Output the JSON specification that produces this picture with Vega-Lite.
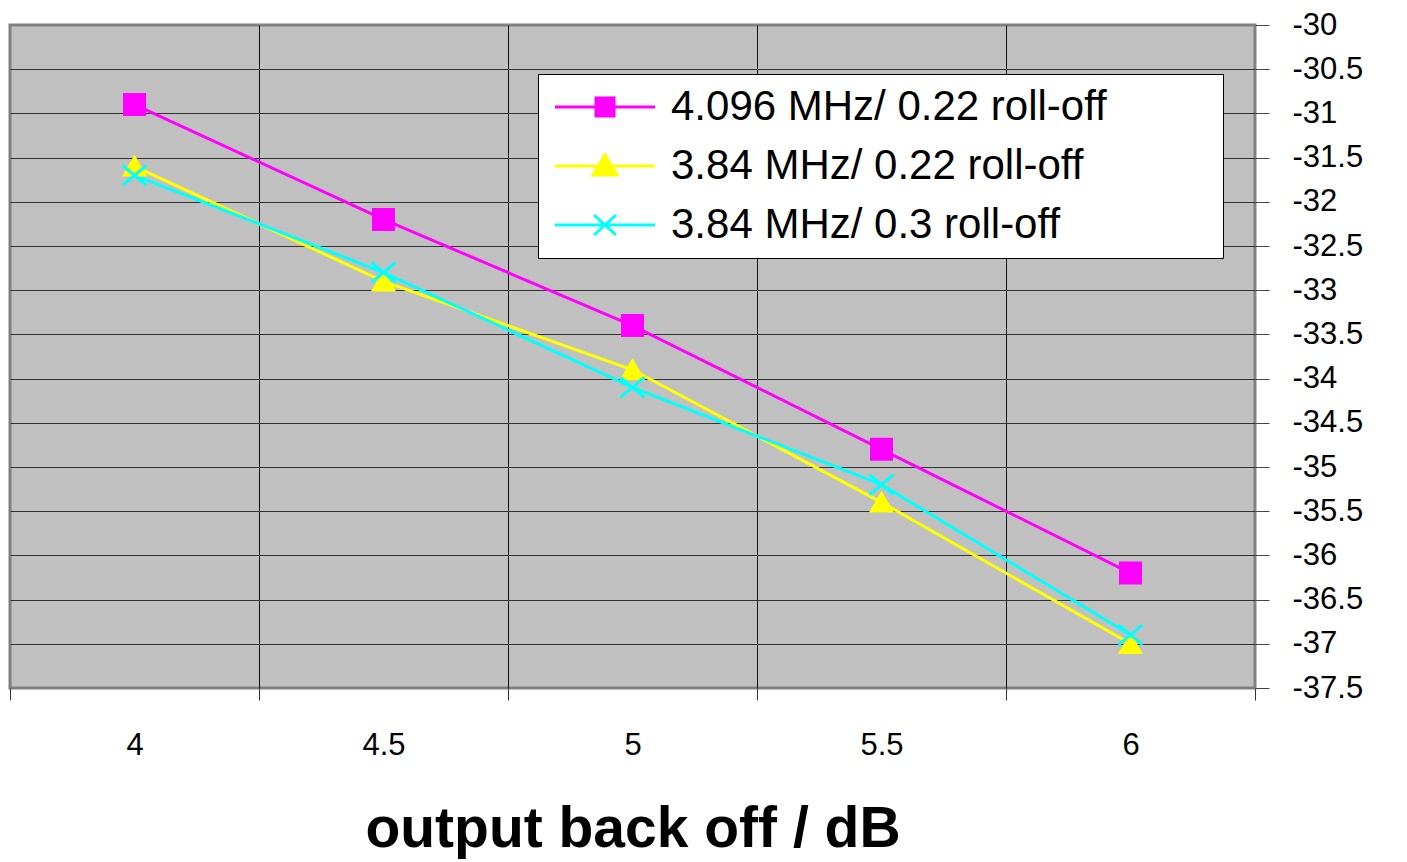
{
  "$schema": "https://vega.github.io/schema/vega-lite/v6.json",
  "width": 1245,
  "height": 663,
  "autosize": {"type": "none"},
  "padding": {"left": 10, "top": 25, "right": 152, "bottom": 174},
  "background": "white",
  "config": {
    "font": "Liberation Sans",
    "view": {"fill": "#C0C0C0", "stroke": "#808080", "strokeWidth": 3}
  },
  "data": {
    "values": [
      {"obo": 4, "series": "4.096 MHz/ 0.22 roll-off", "value": -30.9},
      {"obo": 4.5, "series": "4.096 MHz/ 0.22 roll-off", "value": -32.2},
      {"obo": 5, "series": "4.096 MHz/ 0.22 roll-off", "value": -33.4},
      {"obo": 5.5, "series": "4.096 MHz/ 0.22 roll-off", "value": -34.8},
      {"obo": 6, "series": "4.096 MHz/ 0.22 roll-off", "value": -36.2},
      {"obo": 4, "series": "3.84 MHz/ 0.22 roll-off", "value": -31.6},
      {"obo": 4.5, "series": "3.84 MHz/ 0.22 roll-off", "value": -32.9},
      {"obo": 5, "series": "3.84 MHz/ 0.22 roll-off", "value": -33.9},
      {"obo": 5.5, "series": "3.84 MHz/ 0.22 roll-off", "value": -35.4},
      {"obo": 6, "series": "3.84 MHz/ 0.22 roll-off", "value": -37.0},
      {"obo": 4, "series": "3.84 MHz/ 0.3 roll-off", "value": -31.7},
      {"obo": 4.5, "series": "3.84 MHz/ 0.3 roll-off", "value": -32.8},
      {"obo": 5, "series": "3.84 MHz/ 0.3 roll-off", "value": -34.1},
      {"obo": 5.5, "series": "3.84 MHz/ 0.3 roll-off", "value": -35.2},
      {"obo": 6, "series": "3.84 MHz/ 0.3 roll-off", "value": -36.9}
    ]
  },
  "encoding": {
    "y": {
      "field": "value",
      "type": "quantitative",
      "scale": {"domain": [-37.5, -30], "nice": false, "zero": false},
      "axis": {
        "orient": "right",
        "title": null,
        "values": [-37.5, -37, -36.5, -36, -35.5, -35, -34.5, -34, -33.5, -33, -32.5, -32, -31.5, -31, -30.5, -30],
        "grid": true,
        "gridColor": "#333333",
        "gridWidth": 1.2,
        "gridOpacity": {"condition": {"test": "datum.value <= -37.4 || datum.value >= -30.1", "value": 0}, "value": 1},
        "domain": false,
        "ticks": true,
        "tickSize": 14,
        "tickColor": "#444444",
        "tickWidth": 1,
        "labelFontSize": 31,
        "labelColor": "black",
        "labelPadding": 23,
        "labelAlign": "left",
        "labelBaseline": "middle",
        "labelFlush": false,
        "labelOverlap": false,
        "labelExpr": "(datum.value < 0 ? '-' : '') + format(abs(datum.value), '.1~f')"
      }
    }
  },
  "layer": [
    {
      "mark": {"type": "line", "strokeWidth": 3},
      "encoding": {
        "x": {
          "field": "obo",
          "type": "quantitative",
          "scale": {"domain": [3.75, 6.25], "nice": false, "zero": false},
          "axis": {
            "orient": "bottom",
            "values": [3.75, 4.25, 4.75, 5.25, 5.75, 6.25],
            "grid": true,
            "gridColor": "#111111",
            "gridWidth": 1,
            "gridOpacity": {"condition": {"test": "datum.value < 3.8 || datum.value > 6.2", "value": 0}, "value": 1},
            "ticks": true,
            "tickSize": 12,
            "tickColor": "#333333",
            "tickWidth": 1,
            "labels": false,
            "domain": false,
            "title": null
          }
        },
        "color": {
          "field": "series",
          "type": "nominal",
          "scale": {
            "domain": ["4.096 MHz/ 0.22 roll-off", "3.84 MHz/ 0.22 roll-off", "3.84 MHz/ 0.3 roll-off"],
            "range": ["#FF00FF", "#FFFF00", "#00FFFF"]
          },
          "legend": null
        }
      }
    },
    {
      "mark": {"type": "point", "size": 400, "strokeWidth": 3, "opacity": 1},
      "encoding": {
        "x": {
          "field": "obo",
          "type": "quantitative",
          "scale": {"domain": [3.75, 6.25], "nice": false, "zero": false},
          "axis": {
            "orient": "bottom",
            "values": [4, 4.5, 5, 5.5, 6],
            "grid": false,
            "ticks": false,
            "domain": false,
            "labelFontSize": 31,
            "labelColor": "black",
            "labelPadding": 42,
            "labelFlush": false,
            "labelExpr": "format(datum.value, '.1~f')",
            "title": "output back off / dB",
            "titleFontSize": 57,
            "titleFontWeight": "bold",
            "titleColor": "black",
            "titlePadding": 41
          }
        },
        "fill": {
          "field": "series",
          "type": "nominal",
          "scale": {
            "domain": ["4.096 MHz/ 0.22 roll-off", "3.84 MHz/ 0.22 roll-off", "3.84 MHz/ 0.3 roll-off"],
            "range": ["#FF00FF", "#FFFF00", "#00FFFF"]
          },
          "legend": null
        },
        "stroke": {
          "field": "series",
          "type": "nominal",
          "scale": {
            "domain": ["4.096 MHz/ 0.22 roll-off", "3.84 MHz/ 0.22 roll-off", "3.84 MHz/ 0.3 roll-off"],
            "range": ["#FF00FF", "#FFFF00", "#00FFFF"]
          },
          "legend": null
        },
        "shape": {
          "field": "series",
          "type": "nominal",
          "scale": {
            "domain": ["4.096 MHz/ 0.22 roll-off", "3.84 MHz/ 0.22 roll-off", "3.84 MHz/ 0.3 roll-off"],
            "range": ["square", "triangle-up", "M-1.2,-1L1.2,1M-1.2,1L1.2,-1"]
          },
          "legend": null
        }
      }
    },
    {
      "transform": [{"filter": "datum.obo > 100"}],
      "mark": {"type": "point", "size": 400, "strokeWidth": 3, "opacity": 1},
      "encoding": {
        "x": {"field": "obo", "type": "quantitative", "axis": null},
        "fill": {
          "field": "series",
          "type": "nominal",
          "scale": {
            "domain": ["4.096 MHz/ 0.22 roll-off", "3.84 MHz/ 0.22 roll-off", "3.84 MHz/ 0.3 roll-off"],
            "range": ["#FF00FF", "#FFFF00", "#00FFFF"]
          },
          "legend": {
            "title": null,
            "orient": "none",
            "legendX": 528,
            "legendY": 49,
            "direction": "vertical",
            "fillColor": "white",
            "strokeColor": "black",
            "padding": 12,
            "labelFontSize": 42,
            "labelColor": "black",
            "labelLimit": 0,
            "symbolSize": 400,
            "symbolStrokeWidth": 3,
            "symbolOpacity": 1,
            "symbolOffset": 34,
            "labelOffset": 45,
            "rowPadding": 17
          }
        },
        "stroke": {
          "field": "series",
          "type": "nominal",
          "scale": {
            "domain": ["4.096 MHz/ 0.22 roll-off", "3.84 MHz/ 0.22 roll-off", "3.84 MHz/ 0.3 roll-off"],
            "range": ["#FF00FF", "#FFFF00", "#00FFFF"]
          },
          "legend": {
            "title": null,
            "orient": "none",
            "legendX": 528,
            "legendY": 49,
            "direction": "vertical",
            "fillColor": "white",
            "strokeColor": "black",
            "padding": 12,
            "labelFontSize": 42,
            "labelColor": "black",
            "labelLimit": 0,
            "symbolSize": 400,
            "symbolStrokeWidth": 3,
            "symbolOpacity": 1,
            "symbolOffset": 34,
            "labelOffset": 45,
            "rowPadding": 17
          }
        },
        "shape": {
          "field": "series",
          "type": "nominal",
          "scale": {
            "domain": ["4.096 MHz/ 0.22 roll-off", "3.84 MHz/ 0.22 roll-off", "3.84 MHz/ 0.3 roll-off"],
            "range": ["M-5,0H5M-0.9,-0.9H0.9V0.9H-0.9ZM60,0", "M-5,0H5M0,-1.1L1.2,0.9H-1.2ZM60,0", "M-5,0H5M-1.1,-1L1.1,1M-1.1,1L1.1,-1M60,0"]
          },
          "legend": {
            "title": null,
            "orient": "none",
            "legendX": 528,
            "legendY": 49,
            "direction": "vertical",
            "fillColor": "white",
            "strokeColor": "black",
            "padding": 12,
            "labelFontSize": 42,
            "labelColor": "black",
            "labelLimit": 0,
            "symbolSize": 400,
            "symbolStrokeWidth": 3,
            "symbolOpacity": 1,
            "symbolOffset": 34,
            "labelOffset": 45,
            "rowPadding": 17
          }
        }
      }
    }
  ],
  "resolve": {
    "axis": {"x": "independent"},
    "scale": {"shape": "independent", "fill": "independent", "stroke": "independent"}
  }
}
